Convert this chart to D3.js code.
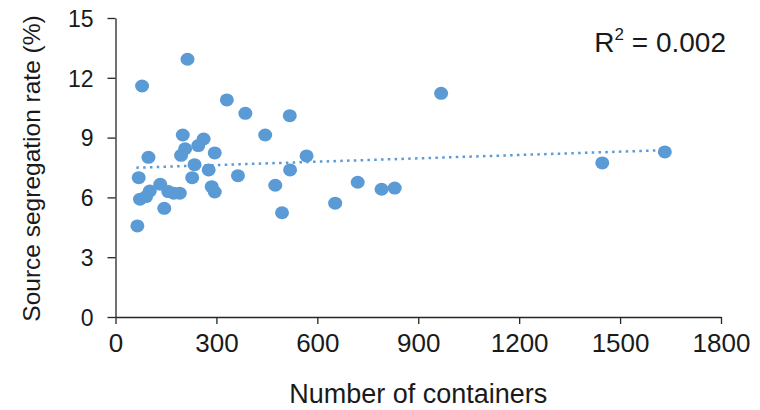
<!DOCTYPE html>
<html>
<head>
<meta charset="utf-8">
<script src="https://cdn.jsdelivr.net/npm/d3@7"></script>
<style>
  html, body { margin: 0; padding: 0; background: #fff; }
  svg { display: block; font-family: "Liberation Sans", Arial, sans-serif; }
</style>
</head>
<body>
<svg id="chart" width="760" height="410"></svg>
<script>
// Data
const containers = [214, 79, 331, 386, 518, 445, 200, 262, 246, 207,
                    195, 295, 98, 568, 235, 277, 519, 69, 364, 228,
                    475, 286, 295, 133, 102, 73, 91, 157, 191, 173,
                    145, 495, 653, 65, 968, 1633, 1447, 720, 791, 830];
const segregationRate = [12.93, 11.59, 10.89, 10.22, 10.10, 9.13, 9.13, 8.93, 8.60, 8.44,
                         8.11, 8.23, 8.01, 8.08, 7.64, 7.38, 7.38, 6.99, 7.09, 6.99,
                         6.61, 6.54, 6.27, 6.66, 6.32, 5.91, 6.04, 6.29, 6.21, 6.21,
                         5.45, 5.23, 5.71, 4.57, 11.22, 8.28, 7.73, 6.76, 6.41, 6.47];
const trendX = [62, 1633];
const trendY = [7.49, 8.37];
const xTicks = [0, 300, 600, 900, 1200, 1500, 1800];
const yTicks = [0, 3, 6, 9, 12, 15];
const xTitle = "Number of containers";
const yTitle = "Source segregation rate (%)";
const r2Label = "0.002";

const svg = d3.select("#chart");
const color = "#5B9BD5";

const x = d3.scaleLinear().domain([0, 1800]).range([115.5, 721]);
const y = d3.scaleLinear().domain([0, 15]).range([317, 18]);

// Axes
const xAxis = d3.axisBottom(x).tickValues(xTicks).tickFormat(d3.format("d"))
  .tickSize(7).tickSizeOuter(0).tickPadding(10);
const yAxis = d3.axisLeft(y).tickValues(yTicks).tickFormat(d3.format("d"))
  .tickSize(8).tickSizeOuter(0).tickPadding(14);

const gx = svg.append("g").attr("transform", `translate(0,${y(0)})`).call(xAxis);
const gy = svg.append("g").attr("transform", `translate(${x(0)},0)`).call(yAxis);

[gx, gy].forEach(g => {
  g.selectAll("path.domain").attr("stroke", "#262626").attr("stroke-width", 1.3);
  g.selectAll(".tick line").attr("stroke", "#262626").attr("stroke-width", 1.3);
  g.selectAll(".tick text").attr("fill", "#1a1a1a").attr("font-family", "Liberation Sans, Arial, sans-serif");
});
gx.selectAll(".tick text").attr("font-size", 26);
gy.selectAll(".tick text").attr("font-size", 23).attr("dy", "0.36em");

// Trend line (dotted)
svg.append("line")
  .attr("x1", x(trendX[0])).attr("y1", y(trendY[0]))
  .attr("x2", x(trendX[1])).attr("y2", y(trendY[1]))
  .attr("stroke", color).attr("stroke-width", 2.5)
  .attr("stroke-dasharray", "2.5 4.3");

// Points
const pts = containers.map((c, i) => ({x: c, y: segregationRate[i]}));
svg.append("g").selectAll("ellipse").data(pts).enter().append("ellipse")
  .attr("cx", d => x(d.x)).attr("cy", d => y(d.y))
  .attr("rx", 7).attr("ry", 6.5)
  .attr("fill", color);

// Axis titles
svg.append("text")
  .attr("x", (x(0) + x(1800)) / 2).attr("y", 403)
  .attr("text-anchor", "middle").attr("font-size", 27).attr("fill", "#1a1a1a")
  .text(xTitle);

svg.append("text")
  .attr("transform", `translate(40,${(y(0) + y(15)) / 2 + 1}) rotate(-90)`)
  .attr("text-anchor", "middle").attr("font-size", 24.5).attr("fill", "#1a1a1a")
  .text(yTitle);

// R² label
const r2 = svg.append("text")
  .attr("x", 726).attr("y", 52).attr("text-anchor", "end")
  .attr("font-size", 28).attr("fill", "#1a1a1a");
r2.append("tspan").text("R");
r2.append("tspan").attr("font-size", 17).attr("dy", -12).text("2");
r2.append("tspan").attr("dy", 12).text(" = " + r2Label);
</script>
</body>
</html>
